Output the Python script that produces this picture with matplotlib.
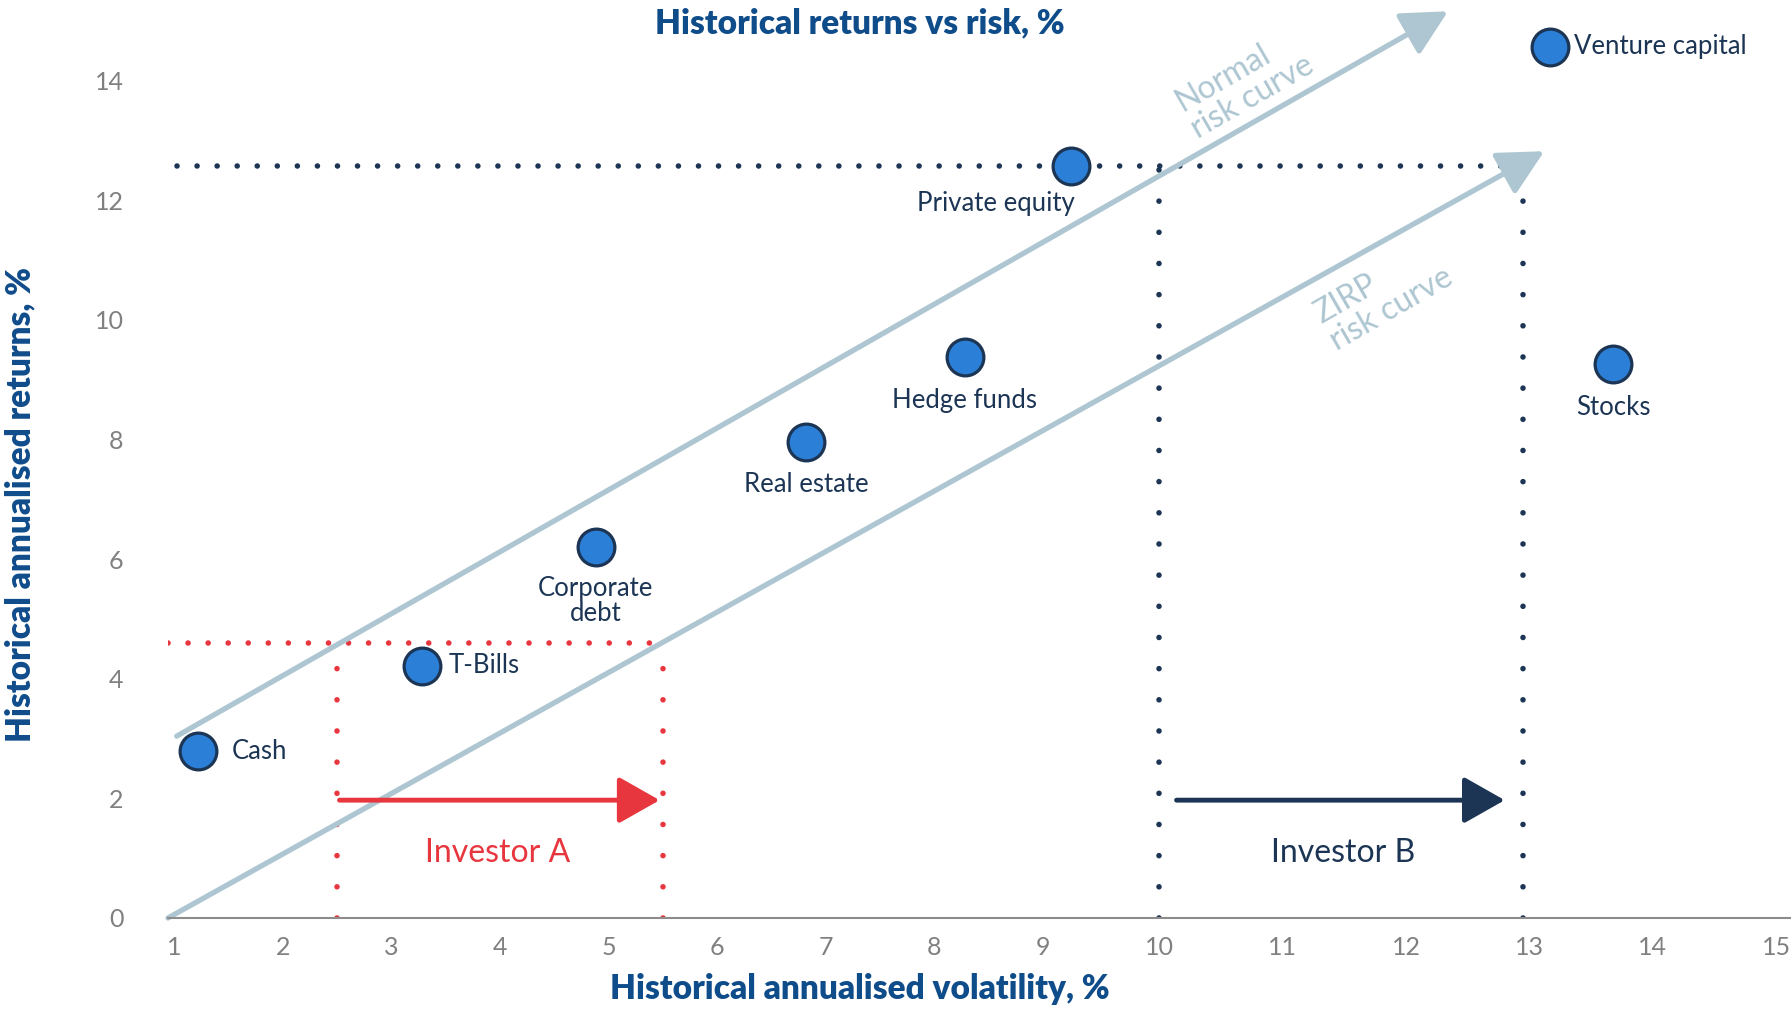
import numpy as np
import matplotlib
matplotlib.use("Agg")
import matplotlib.pyplot as plt

plt.rcParams['font.family'] = ['Lato', 'DejaVu Sans']

# asset classes: volatility %, return %
assets = ["Cash", "T-Bills", "Corporate\ndebt", "Real estate", "Hedge funds",
          "Private equity", "Venture capital", "Stocks"]
vol = [1.22, 3.28, 4.88, 6.82, 8.28, 9.24, 13.17, 13.68]
ret = [2.79, 4.22, 6.21, 7.96, 9.38, 12.57, 14.57, 9.26]

# risk curves (start, end) as (vol, return)
normal_curve = [(1.02, 3.04), (12.34, 15.16)]
zirp_curve = [(0.94, 0.0), (13.12, 12.82)]

# investor ranges
inv_a = [2.5, 5.5]
inv_a_ret = 4.6
inv_b = [10.0, 12.95]
inv_b_ret = 12.57

x_ticks = list(range(1, 16))
y_ticks = list(range(0, 15, 2))

# the original x axis is not evenly spaced: tick positions in pixels
tick_px = [58, 153, 248, 343, 438, 533, 628, 723, 818, 913, 1015, 1123, 1231,
           1339, 1447, 1555, 1663]
tick_val = list(range(0, 17))


def fwd(x):
    return np.interp(x, tick_val, tick_px)


def inv(p):
    return np.interp(p, tick_px, tick_val)


NAVY = "#1c3554"
BLUE = "#0f4c8a"
DOT_BLUE = "#2b7fd6"
CURVE = "#adc6d1"
RED = "#e8363f"
GREY = "#808080"

fig = plt.figure(figsize=(17.91, 10.09), dpi=100)
ax = fig.add_axes([0.0938, 0.0902, 0.9062, 0.901])
ax.set_xscale('function', functions=(fwd, inv))
ax.set_xlim(0.94, 15.12)
ax.set_ylim(0, 15.2)

for s in ['top', 'right', 'left']:
    ax.spines[s].set_visible(False)
ax.spines['bottom'].set_color("#8c8c8c")
ax.spines['bottom'].set_linewidth(1.5)
ax.set_xticks(x_ticks)
ax.set_yticks(y_ticks)
ax.xaxis.set_minor_locator(matplotlib.ticker.NullLocator())
ax.tick_params(axis='x', length=0, pad=13, labelsize=18, labelcolor=GREY)
ax.tick_params(axis='y', length=0, pad=32, labelsize=18, labelcolor=GREY)

# risk curves with arrowheads
for (x0, y0), (x1, y1) in [normal_curve, zirp_curve]:
    ax.annotate("", xy=(x1, y1), xytext=(x0, y0),
                arrowprops=dict(arrowstyle='-|>,head_length=1.65,head_width=0.85',
                                mutation_scale=17, color=CURVE, lw=3.8,
                                shrinkA=0, shrinkB=0), zorder=2)

hdots = dict(linestyle=(0, (0.01, 3.6)), dash_capstyle='round', lw=4)
vdots = dict(linestyle=(0, (0.01, 5.6)), dash_capstyle='round', lw=4)
# investor A dotted box
ax.plot([0.94, inv_a[1]], [inv_a_ret, inv_a_ret], color=RED, zorder=1, **hdots)
for xv in inv_a:
    ax.plot([xv, xv], [0, inv_a_ret], color=RED, zorder=1, **vdots)
# investor B dotted box
ax.plot([1.02, inv_b[1]], [inv_b_ret, inv_b_ret], color=NAVY, zorder=1, **hdots)
for xv in inv_b:
    ax.plot([xv, xv], [0, inv_b_ret], color=NAVY, zorder=1, **vdots)

# investor arrows
ax.annotate("", xy=(5.47, 1.97), xytext=(2.52, 1.97),
            arrowprops=dict(arrowstyle='-|>,head_length=1.5,head_width=0.85',
                            mutation_scale=17, color=RED, lw=3.5,
                            shrinkA=0, shrinkB=0), zorder=3)
ax.annotate("", xy=(12.8, 1.97), xytext=(10.14, 1.97),
            arrowprops=dict(arrowstyle='-|>,head_length=1.5,head_width=0.85',
                            mutation_scale=17, color=NAVY, lw=3.5,
                            shrinkA=0, shrinkB=0), zorder=3)
ax.text(3.98, 1.08, "Investor A", color=RED, fontsize=23, ha='center', va='center')
ax.text(11.49, 1.08, "Investor B", color=NAVY, fontsize=23, ha='center', va='center')

# curve labels
ax.text(10.69, 13.95, "Normal\nrisk curve", color=CURVE, fontsize=23, rotation=30,
        ha='center', va='center', multialignment='left', linespacing=1.05)
ax.text(11.82, 10.4, "ZIRP\nrisk curve", color=CURVE, fontsize=23, rotation=30,
        ha='center', va='center', multialignment='left', linespacing=1.05)

# asset points
ax.scatter(vol, ret, s=700, color=DOT_BLUE, edgecolor=NAVY, linewidth=2.3, zorder=5)

offsets = {
    "Cash": ((24, 0), 'left', 'center'),
    "T-Bills": ((19, 0), 'left', 'center'),
    "Corporate\ndebt": ((0, -21), 'center', 'top'),
    "Real estate": ((0, -22), 'center', 'top'),
    "Hedge funds": ((0, -22), 'center', 'top'),
    "Private equity": ((-54, -18), 'center', 'top'),
    "Venture capital": ((17, 0), 'left', 'center'),
    "Stocks": ((0, -22), 'center', 'top'),
}
for name, xv, yv in zip(assets, vol, ret):
    off, ha, va = offsets[name]
    ax.annotate(name, (xv, yv), xytext=off, textcoords='offset points',
                ha=ha, va=va, fontsize=18.5, color=NAVY, linespacing=1.0, zorder=6)

fig.text(0.480, 0.977, "Historical returns vs risk, %", ha='center', va='center',
         fontsize=24, fontweight='heavy', color=BLUE)
fig.text(0.480, 0.020, "Historical annualised volatility, %", ha='center', va='center',
         fontsize=24, fontweight='heavy', color=BLUE)
fig.text(0.0115, 0.5, "Historical annualised returns, %", ha='center', va='center',
         rotation=90, fontsize=24, fontweight='heavy', color=BLUE)

fig.savefig("out.png", dpi=100, facecolor='white')
